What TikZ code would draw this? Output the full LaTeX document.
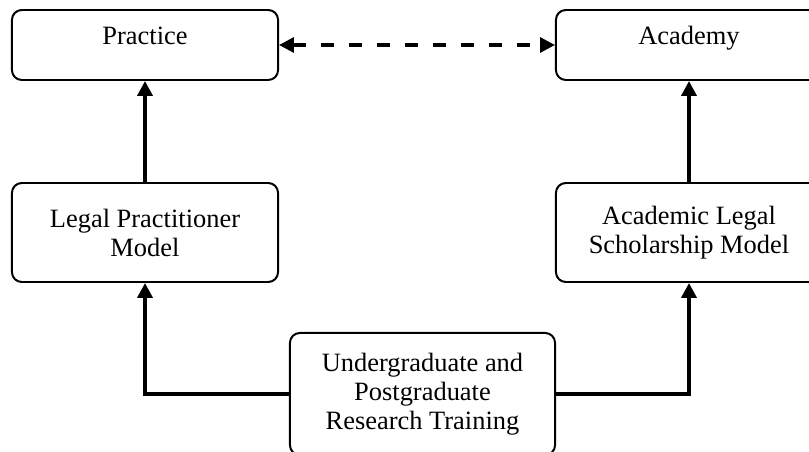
\documentclass[tikz,border=0pt]{standalone}
\usepackage{fontspec}
\setmainfont{Liberation Serif}
\usetikzlibrary{arrows.meta}

\tikzset{
    riquadro/.style={draw, line width=1.4pt, rounded corners=7pt, align=center,
        font=\fontsize{18.8pt}{20.6pt}\selectfont, inner sep=0pt},
    unariga/.style={text height=13pt, text depth=13pt},
    freccia/.style={line width=2.6pt, -{Triangle[length=0.37cm,width=0.37cm]}},
    doppia/.style={line width=2.3pt, dash pattern=on 0.325cm off 0.375cm,
        {Triangle[length=0.37cm,width=0.37cm]}-{Triangle[length=0.37cm,width=0.37cm]}}
}

\begin{document}
\begin{tikzpicture}[x=0.025cm, y=-0.025cm]
        \useasboundingbox (0,0) rectangle (809,452);
        \clip (0,0) rectangle (809,452);

        % Riquadri in alto
        \node[riquadro, unariga, minimum width=6.65cm, minimum height=1.75cm] (pratica) at (145,45) {Practice};
        \node[riquadro, unariga, minimum width=6.65cm, minimum height=1.75cm] (accademia) at (689,45) {Academy};

        % Modelli
        \node[riquadro, minimum width=6.65cm, minimum height=2.475cm] (praticante) at (145,232.5) {Legal Practitioner\\Model};
        \node[riquadro, minimum width=6.65cm, minimum height=2.475cm] (accademico) at (689,232.5) {Academic Legal\\Scholarship Model};

        % Formazione
        \node[riquadro, minimum width=6.625cm, minimum height=3.05cm] (formazione) at (422.5,394) {Undergraduate and\\Postgraduate\\Research Training};

        % Frecce
        \draw[freccia] (formazione.west) -| (praticante.south);
        \draw[freccia] (formazione.east) -| (accademico.south);
        \draw[freccia] (praticante.north) -- (pratica.south);
        \draw[freccia] (accademico.north) -- (accademia.south);
        \draw[doppia] (pratica.east) -- (accademia.west);
    \end{tikzpicture}
\end{document}
